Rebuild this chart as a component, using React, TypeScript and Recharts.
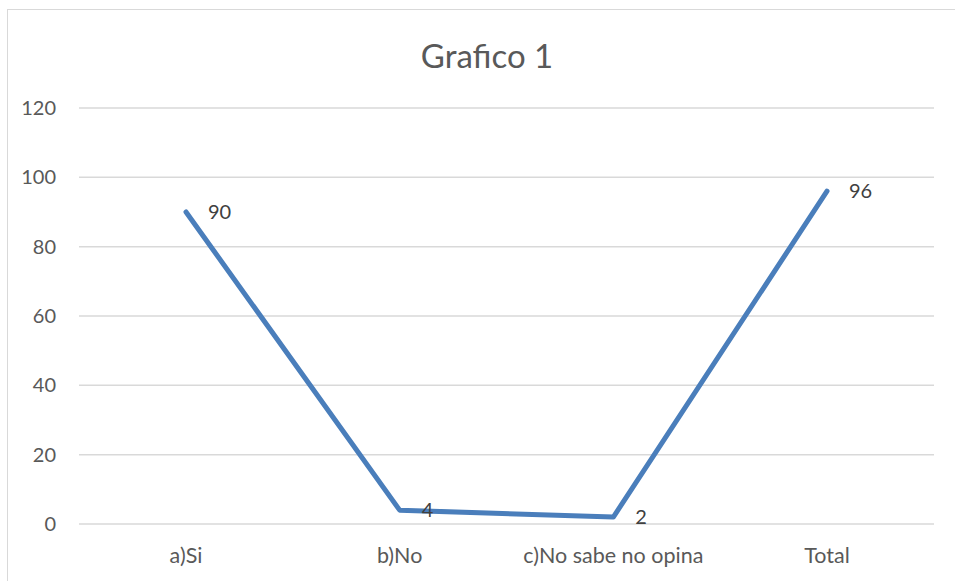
import React from "react";
import { LineChart, Line, XAxis, YAxis, CartesianGrid, LabelList } from "recharts";

const categories = ["a)Si", "b)No", "c)No sabe no opina", "Total"];
const values = [90, 4, 2, 96];
const yTicks = [0, 20, 40, 60, 80, 100, 120];
const title = "Grafico 1";

const data = categories.map((c, i) => ({ name: c, value: values[i] }));

const FONT = "Lato, 'Open Sans', sans-serif";

const renderLabel = (props: any) => {
  const { x, y, value } = props;
  return (
    <text x={x + 22} y={y} dy="0.35em" fill="#404040" fontSize={20} fontFamily={FONT} textAnchor="start">
      {value}
    </text>
  );
};

export default function App() {
  return (
    <div style={{ position: "absolute", left: 0, top: 0, width: 955, height: 581, overflow: "hidden", background: "#fff" }}>
      <div style={{ position: "absolute", left: 7, top: 9, width: 960, height: 600, border: "1.5px solid #d9d9d9", boxSizing: "border-box" }} />
      <div style={{ position: "absolute", left: 0, top: 0 }}>
        <LineChart width={955} height={581} data={data} margin={{ top: 108, right: 21, bottom: 0, left: 0 }}>
          <text x={487} y={55} textAnchor="middle" dominantBaseline="central" fontSize={33} fill="#595959" fontFamily={FONT}>
            {title}
          </text>
          <CartesianGrid vertical={false} stroke="#d9d9d9" strokeWidth={1.5} />
          <XAxis
            dataKey="name"
            height={57}
            axisLine={false}
            tickLine={false}
            tickSize={0}
            tickMargin={24}
            padding={{ left: 107, right: 107 }}
            tick={{ fill: "#595959", fontSize: 21.5, fontFamily: FONT }}
            interval={0}
          />
          <YAxis
            width={79}
            domain={[0, 120]}
            ticks={yTicks}
            axisLine={false}
            tickLine={false}
            tickSize={0}
            tickMargin={23}
            tick={{ fill: "#595959", fontSize: 20, fontFamily: FONT }}
          />
          <Line
            type="linear"
            dataKey="value"
            stroke="#4a7ebb"
            strokeWidth={5}
            strokeLinecap="round"
            strokeLinejoin="round"
            dot={false}
            activeDot={false}
            isAnimationActive={false}
          >
            <LabelList dataKey="value" content={renderLabel} />
          </Line>
        </LineChart>
      </div>
    </div>
  );
}
